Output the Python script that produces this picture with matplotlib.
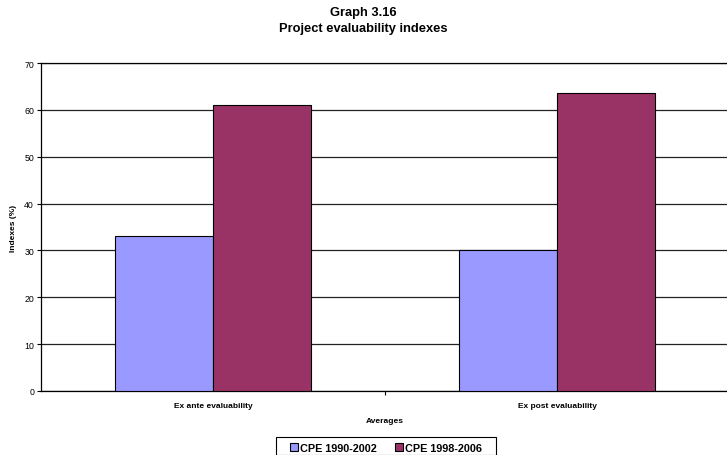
import matplotlib
matplotlib.use("Agg")
import matplotlib.pyplot as plt
from matplotlib.patches import Rectangle
import numpy as np

plt.rcParams['font.family'] = ['Liberation Sans', 'DejaVu Sans']

categories = ["Ex ante evaluability", "Ex post evaluability"]
series_names = ["CPE 1990-2002", "CPE 1998-2006"]
cpe_1990_2002 = [33.0, 30.0]
cpe_1998_2006 = [61.0, 63.7]
y_ticks = [0, 10, 20, 30, 40, 50, 60, 70]

colors = ["#9999FF", "#993366"]

W, H = 727, 456
fig = plt.figure(figsize=(W / 100, H / 100), dpi=100)
ax = fig.add_axes([41 / W, 64 / H, 688 / W, 328 / H])

x = np.arange(len(categories))
w = 0.285
ax.bar(x - w / 2, cpe_1990_2002, width=w, color=colors[0], edgecolor="black",
       linewidth=0.8, label=series_names[0], zorder=3)
ax.bar(x + w / 2, cpe_1998_2006, width=w, color=colors[1], edgecolor="black",
       linewidth=0.8, label=series_names[1], zorder=3)

ax.set_xlim(-0.5, 1.5)
ax.set_ylim(0, 70)
ax.set_yticks(y_ticks)
ax.set_yticklabels([str(t) for t in y_ticks], fontsize=6.3)
ax.yaxis.grid(True, color="#222222", linewidth=0.9, zorder=0)
ax.set_axisbelow(True)

ax.set_xticks(x)
ax.set_xticklabels(categories, fontsize=6, fontweight="bold")
ax.tick_params(axis="x", which="major", length=0, pad=8)
ax.set_xticks([0.5], minor=True)
ax.tick_params(axis="x", which="minor", length=3, width=0.8, direction="out")
ax.tick_params(axis="y", length=3, width=0.8, direction="out", pad=2)

for s in ["left", "bottom", "top"]:
    ax.spines[s].set_linewidth(0.9)
    ax.spines[s].set_color("black")
ax.spines["right"].set_visible(False)

ax.set_xlabel("Averages", fontsize=6, fontweight="bold", labelpad=6)
ax.set_ylabel("Indexes (%)", fontsize=6, fontweight="bold", labelpad=5)

fig.text(0.5, 1 - 21 / H, "Graph 3.16\nProject evaluability indexes",
         ha="center", va="center", fontsize=9.3, fontweight="bold", linespacing=1.45)

leg = fig.legend(loc="center", bbox_to_anchor=(386 / W, 1 - 449 / H), ncol=2,
                 frameon=False, handlelength=0.8, handleheight=0.8, handletextpad=0.2,
                 columnspacing=1.6, prop={"weight": "bold", "size": 7.8})
# Legend frame drawn as a box wider than the entries
fig.patches.append(Rectangle((276 / W, 0 / H), 220 / W, 18 / H, transform=fig.transFigure,
                             fill=False, edgecolor="black", linewidth=0.8))

fig.savefig("out.png", dpi=100)
